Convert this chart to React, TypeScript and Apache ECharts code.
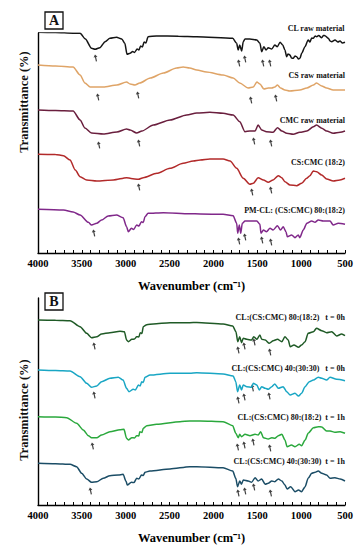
import React, { useEffect, useRef } from "react";
import * as echarts from "echarts";

type P = [number, number];

// Panel A spectra: [wavenumber, transmittance (a.u., stacked)]
const CL_RAW: P[] = [[4000,220.7],[3800,220.5],[3600,219.8],[3520,219.7],[3460,214],[3390,204.7],[3350,203.7],[3295,205.3],[3235,211.3],[3180,214.7],[3105,215.7],[3045,214],[3010,209.7],[2985,198.7],[2950,199.7],[2920,201.5],[2900,200.5],[2870,204],[2850,203],[2830,207],[2810,206],[2790,211],[2770,210],[2745,216.3],[2650,217],[2400,216.8],[2190,216.3],[1780,214.7],[1735,209.7],[1718,203],[1700,208],[1678,202],[1660,211.3],[1640,214],[1585,214],[1505,213],[1470,209.7],[1450,201.3],[1425,206.3],[1400,203],[1375,205.3],[1335,204],[1300,208],[1272,206.3],[1240,210.7],[1210,208],[1185,203],[1165,196.3],[1150,199],[1127,198],[1110,195],[1090,194.7],[1070,197],[1051,196.3],[1030,194],[1013,194.7],[994,199.7],[956,206.3],[920,213],[900,211],[880,215],[862,214.7],[840,217],[823,216.3],[800,217.5],[766,215.3],[745,217.5],[728,217.3],[690,214.7],[670,212],[652,211.3],[614,213],[580,211],[557,212],[530,210],[500,210.7]];
const CS_RAW: P[] = [[4000,188],[3800,187],[3600,186],[3520,178],[3465,170],[3405,166],[3255,166],[3100,168],[2990,171],[2950,169],[2895,168],[2840,170],[2720,175],[2570,180],[2420,185],[2345,186],[2270,185],[2190,183],[2080,181],[1890,178],[1775,175],[1700,170],[1605,165],[1545,166],[1505,171],[1470,169],[1425,164],[1375,165],[1335,165],[1300,166],[1270,168],[1235,165],[1185,163],[1130,162],[1015,163],[935,165],[860,168],[825,170],[765,167],[710,165],[635,163],[500,163]];
const CMC_RAW: P[] = [[4000,143],[3800,142.5],[3600,142],[3520,133],[3465,125],[3390,120],[3255,119],[3100,121],[2990,124],[2950,123],[2875,120],[2815,122],[2685,128],[2495,133],[2305,138],[2190,140],[2040,140.7],[1890,139.7],[1775,138],[1700,131.3],[1640,121.3],[1585,122],[1525,122],[1490,128],[1450,123],[1395,121.3],[1320,120.7],[1270,125.3],[1220,122],[1165,119.7],[1090,118.7],[1015,120.7],[935,122],[860,126.3],[825,128],[765,124.7],[710,122],[635,119.7],[555,120.7],[500,122]];
const CS_CMC: P[] = [[4000,98.7],[3800,98.5],[3710,97.3],[3635,93],[3575,83],[3520,76.3],[3445,73],[3330,72],[3140,73],[2990,75.3],[2940,74.5],[2855,73.7],[2800,75.3],[2645,79.7],[2495,84.7],[2345,89.7],[2230,92],[2150,93],[2040,94],[1890,94],[1810,92],[1735,84.7],[1660,74.7],[1585,68.7],[1545,69.7],[1490,75.3],[1430,73],[1375,70.7],[1320,73],[1260,77.3],[1222,75.3],[1185,71.3],[1127,68],[1051,67.3],[994,69.7],[937,74.7],[900,77.3],[862,82],[823,81.3],[766,78],[709,74],[634,72],[557,73],[500,74.7]];
const PM_CL: P[] = [[4000,43.7],[3710,43],[3600,41],[3520,38],[3425,30.7],[3390,28],[3330,29.7],[3275,33],[3200,37],[3105,38],[3030,35.3],[2990,26.3],[2970,21.3],[2935,24.7],[2910,23.5],[2875,28],[2850,27],[2820,31.3],[2800,30.5],[2780,36.3],[2745,39.7],[2570,40.3],[2270,39.3],[2150,39],[1890,38.7],[1775,37.3],[1735,29.7],[1723,19.7],[1705,28],[1689,19.7],[1671,29.7],[1640,32],[1505,32],[1470,28.7],[1458,19.7],[1430,23],[1395,21.3],[1355,24.7],[1320,23],[1270,27.3],[1235,23],[1204,26.3],[1173,21.3],[1158,16.3],[1108,18],[1070,15.3],[1033,18],[1015,15.3],[976,23],[935,29.7],[880,32],[842,30.7],[805,33],[748,32],[671,32],[635,28],[577,29.7],[500,28.7]];

// Panel B spectra
const G_80_0H: P[] = [[4000,185],[3800,184.8],[3635,184.3],[3520,178.3],[3445,171.7],[3390,167.3],[3330,168.3],[3275,171],[3180,172.3],[3065,173.7],[3015,173.3],[2990,165],[2970,163.3],[2930,165.7],[2900,166],[2875,168.3],[2850,168],[2835,172.3],[2815,171.5],[2800,178.3],[2760,180.3],[2685,181],[2495,182.3],[2270,182.3],[2190,182.5],[1890,181],[1780,179],[1743,173.3],[1723,163.3],[1700,168.3],[1680,162.3],[1660,166.7],[1620,165.7],[1565,165],[1540,168.3],[1505,165.7],[1470,170],[1450,165.7],[1410,165],[1363,161.7],[1318,164.3],[1270,165.7],[1220,163.3],[1185,168.3],[1147,165],[1125,158.3],[1082,160],[1030,157.7],[995,160],[955,163.3],[920,171.7],[860,173.3],[825,176.7],[765,174.3],[710,172.3],[652,173.3],[595,169],[538,171],[500,169.3]];
const C_40_0H: P[] = [[4000,135],[3800,134.5],[3635,134],[3520,128.3],[3445,121.7],[3390,117.7],[3330,119],[3275,123.3],[3180,126.7],[3085,127.7],[3030,125],[2990,116.7],[2963,113.3],[2914,115.7],[2890,115],[2855,120],[2835,119],[2818,123.3],[2800,122.5],[2780,127.7],[2723,130],[2495,131.7],[2270,131.7],[2190,132.3],[1890,131],[1775,129],[1745,123.3],[1725,113.3],[1700,120],[1680,115],[1660,120],[1620,118.3],[1565,117.7],[1546,121.7],[1505,120],[1477,115],[1450,118.3],[1410,116.7],[1375,115.7],[1335,118.3],[1300,121],[1260,116.7],[1205,118.3],[1165,113.3],[1125,110],[1070,111.7],[1030,109],[995,111.7],[955,118.3],[907,123.3],[860,125],[805,127.7],[765,126.7],[710,125],[671,127.7],[595,125.7],[500,124.3]];
const G_80_1H: P[] = [[4000,88.3],[3800,88],[3673,87.3],[3559,81.7],[3484,75],[3425,69.3],[3390,67.3],[3330,67.3],[3275,70],[3180,73.3],[3065,75.3],[3020,75.7],[2990,66.7],[2970,65],[2930,67.3],[2900,67],[2875,69.3],[2850,69],[2840,73.3],[2815,72.5],[2800,76.7],[2760,79.3],[2647,80.7],[2381,83.3],[2270,84],[2150,84],[1890,83.3],[1780,79.3],[1745,71.7],[1717,67.3],[1700,70.7],[1680,68.3],[1640,70.7],[1583,69.3],[1526,70.7],[1490,70],[1461,73.3],[1430,67.3],[1375,66],[1335,67.3],[1300,66.7],[1260,69.3],[1220,70.7],[1185,65],[1160,58.3],[1110,60],[1070,58.3],[1021,60.7],[995,59.3],[955,65],[920,71.7],[860,77.3],[805,78.3],[766,78],[710,74],[670,74],[615,72.7],[555,73.3],[500,71.7]];
const T_40_1H: P[] = [[4000,41.7],[3800,41.3],[3635,40.7],[3560,38.3],[3502,31.7],[3445,26],[3390,22.7],[3330,23.3],[3256,26.7],[3180,29.3],[3085,30],[3030,30.7],[2997,24],[2982,20],[2935,22.7],[2905,22.5],[2875,26.7],[2850,26],[2820,30],[2800,29.5],[2780,32.7],[2725,34],[2495,36],[2270,38.3],[2190,38.3],[1890,37.3],[1780,34],[1745,26.7],[1725,18.3],[1700,24],[1680,20.7],[1660,25],[1603,24],[1565,22.7],[1525,27.3],[1490,24],[1450,26],[1410,20.7],[1375,21.7],[1335,24],[1300,23.3],[1260,26],[1220,24],[1185,20],[1160,16],[1119,18.3],[1070,13.3],[1030,15],[995,13.3],[955,18.3],[920,26.7],[880,31.7],[840,32.7],[805,34],[765,31.7],[710,30],[670,26.7],[615,27.3],[555,26],[500,24]];

// Peak arrows
const A_ARROWS: P[] = [[3342,195],[1709,190],[1640,194],[1435,190],[1355,190],[3316,156],[2860,158],[1572,153],[1287,155],[3305,108],[2849,110],[1538,112],[1344,110],[2849,66],[1560,61],[1344,63],[3362,20],[1709,12],[1640,16],[1446,13],[1344,11]];
const B_ARROWS: P[] = [[3358,159],[1717,155],[1648,159],[1534,163],[1355,153],[3358,110],[1717,105],[1648,108],[1553,117],[1363,109],[3377,59],[1723,58],[1648,60],[1546,63],[1355,57],[3400,14],[1717,12],[1640,14],[1538,18],[1347,12]];

const A_NAMES = ["CL raw material", "CS raw material", "CMC raw material", "CS:CMC (18:2)", "PM-CL: (CS:CMC) 80:(18:2)"];
const B_NAMES = ["CL:(CS:CMC) 80:(18:2)   t = 0h", "CL:(CS:CMC) 40:(30:30)   t = 0h", "CL:(CS:CMC) 80:(18:2)  t = 1h", "CL:(CS:CMC) 40:(30:30)  t = 1h"];
const X_TICKS = [4000, 3500, 3000, 2500, 2000, 1500, 1000, 500];

const FONT = "'Liberation Serif', 'Times New Roman', serif";

export default function App() {
  const ref = useRef<HTMLDivElement>(null);
  useEffect(() => {
    if (!ref.current) return;
    const chart = echarts.init(ref.current, null, { renderer: "svg" });
    const xAxis = (gi: number) => ({
      gridIndex: gi, type: "value", min: 500, max: 4000, interval: 100, inverse: true,
      axisLine: { onZero: false, lineStyle: { color: "#000", width: 1.4 } },
      axisTick: { inside: true, length: 3, lineStyle: { color: "#000", width: 1 } },
      axisLabel: {
        formatter: (v: number) => (X_TICKS.includes(v) ? String(v) : ""),
        color: "#000", fontFamily: FONT, fontWeight: "bold", fontSize: 10.5, margin: 5,
      },
      splitLine: { show: false },
      name: "Wavenumber (cm\u207B\u00B9)", nameLocation: "middle", nameGap: 26,
      nameTextStyle: { color: "#000", fontFamily: FONT, fontWeight: "bold", fontSize: 12.5 },
    });
    const yAxis = (gi: number, max: number) => ({
      gridIndex: gi, type: "value", min: 0, max,
      axisLine: { show: true, onZero: false, lineStyle: { color: "#000", width: 1.4 } },
      axisTick: { show: false }, axisLabel: { show: false }, splitLine: { show: false },
    });
    const line = (name: string, data: P[], color: string, gi: number) => ({
      name, type: "line", data, xAxisIndex: gi, yAxisIndex: gi, symbol: "none",
      lineStyle: { color, width: 1.5 }, smooth: 0.25, smoothMonotone: "x", silent: true,
    });
    const arrowPath = "path://M5,0 L10,6 L6.5,6 L6.5,16 L3.5,16 L3.5,6 L0,6 Z";
    const arrows = (data: P[], gi: number) => ({
      type: "scatter", data, xAxisIndex: gi, yAxisIndex: gi, symbol: arrowPath,
      symbolSize: [4, 7], symbolRotate: 12, itemStyle: { color: "#111" }, silent: true,
    });
    const lbl = (text: string, y: number) => ({
      type: "text", right: 17, y: y - 5,
      style: { text, fill: "#111", font: `bold 8px ${FONT}` },
    });
    const A_Y = [29, 76, 121, 163, 211];
    const B_Y = [318, 369, 418, 462];
    chart.setOption({
      animation: false,
      backgroundColor: "#fff",
      grid: [
        { left: 38, right: 17, top: 33, height: 220 },
        { left: 38, right: 17, top: 298, height: 207 },
      ],
      xAxis: [xAxis(0), xAxis(1)],
      yAxis: [yAxis(0, 220), yAxis(1, 207)],
      series: [
        line(A_NAMES[0], CL_RAW, "#151515", 0),
        line(A_NAMES[1], CS_RAW, "#dfa467", 0),
        line(A_NAMES[2], CMC_RAW, "#6a1f3e", 0),
        line(A_NAMES[3], CS_CMC, "#b22a2a", 0),
        line(A_NAMES[4], PM_CL, "#80288a", 0),
        line(B_NAMES[0], G_80_0H, "#1f5a26", 1),
        line(B_NAMES[1], C_40_0H, "#19a6c4", 1),
        line(B_NAMES[2], G_80_1H, "#2aa83c", 1),
        line(B_NAMES[3], T_40_1H, "#1b4d66", 1),
        arrows(A_ARROWS, 0),
        arrows(B_ARROWS, 1),
      ],
      graphic: [
        ...A_NAMES.map((n, i) => lbl(n, A_Y[i])),
        ...B_NAMES.map((n, i) => lbl(n, B_Y[i])),
        { type: "rect", shape: { x: 45, y: 12, width: 18, height: 17 }, style: { fill: "#fff", stroke: "#111", lineWidth: 1.3 } },
        { type: "text", x: 54, y: 20.5, style: { text: "A", fill: "#111", font: `bold 14px ${FONT}`, textAlign: "center", textVerticalAlign: "middle" } },
        { type: "rect", shape: { x: 45, y: 293, width: 18, height: 17 }, style: { fill: "#fff", stroke: "#111", lineWidth: 1.3 } },
        { type: "text", x: 54, y: 301.5, style: { text: "B", fill: "#111", font: `bold 14px ${FONT}`, textAlign: "center", textVerticalAlign: "middle" } },
        { type: "text", x: 24, y: 102, rotation: Math.PI / 2, style: { text: "Transmittance (%)", fill: "#111", font: `bold 12.5px ${FONT}`, textAlign: "center", textVerticalAlign: "middle" } },
        { type: "text", x: 24, y: 410, rotation: Math.PI / 2, style: { text: "Transmittance (%)", fill: "#111", font: `bold 12.5px ${FONT}`, textAlign: "center", textVerticalAlign: "middle" } },
      ],
    });
    return () => chart.dispose();
  }, []);
  return <div ref={ref} style={{ position: "fixed", left: 0, top: 0, width: 362, height: 550 }} />;
}
